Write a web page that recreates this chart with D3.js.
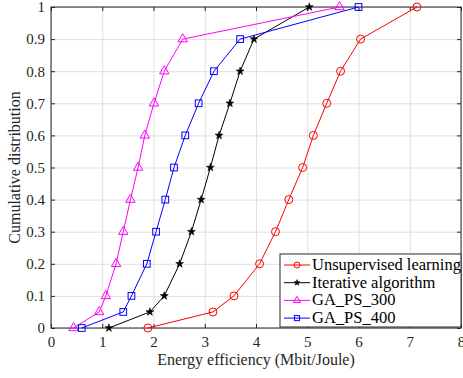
<!DOCTYPE html>
<html>
<head>
<meta charset="utf-8">
<script src="https://cdn.jsdelivr.net/npm/d3@7"></script>
<style>
  body { margin: 0; background: #fff; }
  svg text { font-family: "Liberation Serif", "Times New Roman", serif; }
  .grid line { stroke: #dfdfdf; }
  .grid path { display: none; }
</style>
</head>
<body>
<svg id="chart" width="463" height="378"></svg>
<script>
// cumulative levels shared by all series
const cdfLevels = [0, 0.05, 0.1, 0.2, 0.3, 0.4, 0.5, 0.6, 0.7, 0.8, 0.9, 1.0];

const unsupervised = [1.89, 3.16, 3.57, 4.07, 4.38, 4.64, 4.91, 5.12, 5.38, 5.65, 6.04, 7.14];
const iterative    = [1.13, 1.93, 2.21, 2.51, 2.74, 2.93, 3.11, 3.28, 3.49, 3.69, 3.96, 5.04];
const gaPs300      = [0.44, 0.94, 1.07, 1.27, 1.41, 1.55, 1.70, 1.83, 2.01, 2.21, 2.57, 5.63];
const gaPs400      = [0.60, 1.41, 1.57, 1.87, 2.05, 2.23, 2.40, 2.62, 2.88, 3.18, 3.69, 6.00];

const seriesNames = ['Unsupervised learning', 'Iterative algorithm', 'GA_PS_300', 'GA_PS_400'];
const xTicks = [0, 1, 2, 3, 4, 5, 6, 7, 8];
const yTicks = [0, 0.1, 0.2, 0.3, 0.4, 0.5, 0.6, 0.7, 0.8, 0.9, 1];

const series = [
  { name: seriesNames[0], xs: unsupervised, color: '#ff0000', marker: 'circle' },
  { name: seriesNames[1], xs: iterative, color: '#000000', marker: 'star' },
  { name: seriesNames[2], xs: gaPs300, color: '#ff00ff', marker: 'triangle' },
  { name: seriesNames[3], xs: gaPs400, color: '#0000ff', marker: 'square' }
];

const margin = {top: 7, right: 2, bottom: 50, left: 51};
const width = 463 - margin.left - margin.right;
const height = 378 - margin.top - margin.bottom;

const svg = d3.select('#chart');
const g = svg.append('g').attr('transform', `translate(${margin.left},${margin.top})`);

const x = d3.scaleLinear().domain([0, 8]).range([0, width]);
const y = d3.scaleLinear().domain([0, 1]).range([height, 0]);

// grid
g.append('g').attr('class', 'grid')
  .attr('transform', `translate(0,${height})`)
  .call(d3.axisBottom(x).tickValues(xTicks).tickSize(-height).tickFormat(''));
g.append('g').attr('class', 'grid')
  .call(d3.axisLeft(y).tickValues(yTicks).tickSize(-width).tickFormat(''));

// axes with inward ticks, matlab style
const styleAxis = (sel) => {
  sel.attr('font-family', null);
  sel.select('.domain').remove();
  sel.selectAll('line').attr('stroke', '#262626');
  sel.selectAll('text').attr('fill', '#262626').style('font-size', '15px');
};

g.append('g')
  .attr('transform', `translate(0,${height})`)
  .call(d3.axisBottom(x).tickValues(xTicks).tickSizeInner(-4).tickSizeOuter(0).tickPadding(8).tickFormat(d3.format('d')))
  .call(styleAxis);
g.append('g')
  .call(d3.axisTop(x).tickValues(xTicks).tickSizeInner(-4).tickSizeOuter(0).tickFormat(''))
  .call(styleAxis);
g.append('g')
  .call(d3.axisLeft(y).tickValues(yTicks).tickSizeInner(-4).tickSizeOuter(0).tickPadding(6).tickFormat(d => d === 0 || d === 1 ? d3.format('d')(d) : d3.format('.1f')(d)))
  .call(styleAxis);
g.append('g')
  .attr('transform', `translate(${width},0)`)
  .call(d3.axisRight(y).tickValues(yTicks).tickSizeInner(-4).tickSizeOuter(0).tickFormat(''))
  .call(styleAxis);

g.append('rect')
  .attr('width', width).attr('height', height)
  .attr('fill', 'none').attr('stroke', '#262626').attr('stroke-width', 1);

const plot = g.append('g');

const line = d3.line()
  .x(d => x(d[0]))
  .y(d => y(d[1]));

function drawMarker(sel, type, color, size) {
  if (type === 'circle') {
    sel.append('circle').attr('r', size * 0.5).attr('fill', 'none').attr('stroke', color);
  } else if (type === 'square') {
    sel.append('rect').attr('x', -size * 0.42).attr('y', -size * 0.42)
      .attr('width', size * 0.84).attr('height', size * 0.84)
      .attr('fill', 'none').attr('stroke', color);
  } else if (type === 'triangle') {
    sel.append('path').attr('d', d3.symbol(d3.symbolTriangle, size * size * 0.6)())
      .attr('fill', 'none').attr('stroke', color);
  } else if (type === 'star') {
    sel.append('path').attr('d', d3.symbol(d3.symbolStar, size * size * 0.3)())
      .attr('fill', color).attr('stroke', color).attr('stroke-width', 0.6);
  }
}

series.forEach(s => {
  const pts = s.xs.map((v, i) => [v, cdfLevels[i]]);
  plot.append('path')
    .datum(pts)
    .attr('fill', 'none')
    .attr('stroke', s.color)
    .attr('stroke-width', 1)
    .attr('d', line);
  pts.forEach(p => {
    const m = plot.append('g').attr('transform', `translate(${x(p[0])},${y(p[1])})`);
    drawMarker(m, s.marker, s.color, 8);
  });
});

// legend
const lg = g.append('g').attr('transform', `translate(${width - 181},${height - 74})`);
lg.append('rect')
  .attr('width', 181).attr('height', 73)
  .attr('fill', '#fff').attr('stroke', '#262626').attr('stroke-width', 1);
series.forEach((s, i) => {
  const ly = 11 + i * 17.7;
  lg.append('line').attr('x1', 4).attr('x2', 30).attr('y1', ly).attr('y2', ly)
    .attr('stroke', s.color);
  const m = lg.append('g').attr('transform', `translate(17,${ly})`);
  drawMarker(m, s.marker, s.color, 6);
  lg.append('text').attr('x', 32).attr('y', ly + 5)
    .style('font-size', '16.5px').attr('fill', '#000').text(s.name);
});

// axis labels
svg.append('text')
  .attr('x', margin.left + width / 2).attr('y', 365)
  .attr('text-anchor', 'middle').style('font-size', '16px').attr('fill', '#262626')
  .text('Energy efficiency (Mbit/Joule)');
svg.append('text')
  .attr('transform', `translate(20,${margin.top + height / 2}) rotate(-90)`)
  .attr('text-anchor', 'middle').style('font-size', '16px').attr('fill', '#262626')
  .text('Cumulative distribution');
</script>
</body>
</html>
